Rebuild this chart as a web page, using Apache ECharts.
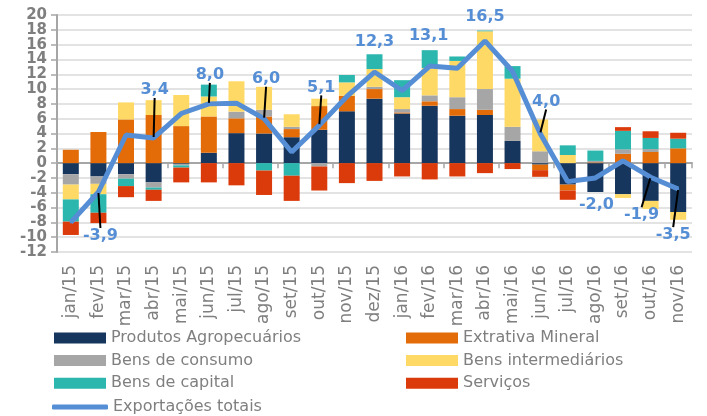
<!DOCTYPE html>
<html>
<head>
<meta charset="utf-8">
<script src="https://cdn.jsdelivr.net/npm/echarts@6/dist/echarts.min.js"></script>
<style>
  html, body { margin: 0; padding: 0; background: #fff; }
  #chart { width: 707px; height: 416px; }
</style>
</head>
<body>
<div id="chart"></div>
<script>
const categories = ['jan/15', 'fev/15', 'mar/15', 'abr/15', 'mai/15', 'jun/15', 'jul/15', 'ago/15', 'set/15', 'out/15', 'nov/15', 'dez/15',
  'jan/16', 'fev/16', 'mar/16', 'abr/16', 'mai/16', 'jun/16', 'jul/16', 'ago/16', 'set/16', 'out/16', 'nov/16']

const agro = [-1.5, -1.8, -1.5, -2.6, -0.1, 1.4, 4.05, 4.0, 3.5, 4.5, 7.0, 8.7, 6.7, 7.75, 6.4, 6.5, 3.0, -0.2, -2.9, -3.9, -4.2, -5.1, -6.6]
const mineral = [1.8, 4.2, 5.9, 6.5, 5.0, 4.9, 2.0, 2.3, 1.1, 3.2, 2.1, 1.3, 0.15, 0.6, 0.9, 0.7, 0, -0.75, -0.8, 0.1, 1.26, 1.5, 2.0]
const consumo = [-1.4, -1.0, -0.6, -0.7, -0.2, 0, 0.9, 0.9, 0.3, -0.45, 0, 0.3, 0.45, 0.8, 1.6, 2.8, 1.9, 1.6, 0, 0.2, 0.6, 0.4, 0]
const intermed = [-2.0, -1.4, 2.3, 2.0, 4.2, 2.7, 4.1, 3.1, 1.7, 1.0, 1.8, 2.4, 1.6, 3.7, 4.9, 7.8, 6.5, 4.3, 1.1, 0, -0.5, -1.1, -1.05]
const capital = [-3.0, -2.5, -1.0, -0.3, -0.3, 1.6, 0, -1.0, -1.7, 0, 1.0, 2.0, 2.3, 2.4, 0.6, 0.1, 1.7, 0, 1.3, 1.4, 2.5, 1.5, 1.3]
const servicos = [-1.8, -1.4, -1.5, -1.5, -2.0, -2.6, -3.0, -3.3, -3.4, -3.25, -2.7, -2.4, -1.8, -2.2, -1.8, -1.35, -0.8, -0.9, -1.25, 0, 0.5, 0.9, 0.8]
const totais = [-8.0, -3.9, 3.8, 3.4, 6.7, 8.0, 8.1, 6.0, 1.5, 5.1, 9.0, 12.3, 9.8, 13.1, 12.8, 16.5, 12.4, 4.0, -2.5, -2.0, 0.3, -1.9, -3.5]

const yTicks = { min: -12, max: 20, interval: 2 }

// label offsets from the point: [dx, dy, leader line]
const labelOffsets = {
  1: [2, 44, true], 3: [1, -48, true], 5: [1, -29, true], 7: [2, -40, true],
  9: [2, -38, true], 11: [0, -30, false], 13: [-1, -30, false], 15: [0, -24, false],
  17: [6, -32, true], 19: [1, 27, false], 21: [-9, 38, true], 22: [-5, 46, true]
}

const font = 'DejaVu Sans'
const fmt = (v) => v.toFixed(1).replace('.', ',')

const bar = (name, data, color) => ({
  name,
  type: 'bar',
  stack: 'total',
  xAxisIndex: 0,
  barWidth: 16,
  data,
  itemStyle: { color },
})

const lineData = totais.map((v, i) => {
  const off = labelOffsets[i]
  return {
    value: v,
    label: { show: !!off },
    labelLine: { show: !!(off && off[2]) },
  }
})

const legendText = { fontFamily: font, fontSize: 16, lineHeight: 18, color: '#7f7f7f' }

const chart = echarts.init(document.getElementById('chart'))

chart.setOption({
  animation: false,
  grid: { left: 57, right: 15, top: 15, bottom: 164 },
  legend: [
    {
      orient: 'vertical',
      left: 49,
      top: 324,
      itemWidth: 52,
      itemHeight: 11,
      itemGap: 4.6,
      icon: 'rect',
      textStyle: legendText,
      data: ['Produtos Agropecuários', 'Bens de consumo', 'Bens de capital'],
    },
    {
      orient: 'vertical',
      left: 401,
      top: 324,
      itemWidth: 52,
      itemHeight: 11,
      itemGap: 4.6,
      icon: 'rect',
      textStyle: legendText,
      data: ['Extrativa Mineral', 'Bens intermediários', 'Serviços'],
    },
    {
      left: 47,
      top: 393,
      itemWidth: 56,
      itemHeight: 5,
      icon: 'roundRect',
      textStyle: legendText,
      data: ['Exportações totais'],
    },
  ],
  xAxis: [
    {
      type: 'category',
      position: 'top',
      data: categories,
      axisLine: { onZero: true, lineStyle: { color: '#a6a6a6', width: 2 } },
      axisTick: { show: true, inside: true, length: 5, lineStyle: { color: '#a6a6a6', width: 1.5 } },
      axisLabel: { show: false },
      splitLine: { show: false },
    },
    {
      type: 'category',
      position: 'bottom',
      data: categories,
      axisLine: { show: false, onZero: false },
      axisTick: { show: false },
      splitLine: { show: false },
      axisLabel: {
        interval: 0,
        rotate: 90,
        margin: 13,
        fontFamily: font,
        fontSize: 17,
        color: '#7f7f7f',
      },
    },
  ],
  yAxis: {
    type: 'value',
    min: yTicks.min,
    max: yTicks.max,
    interval: yTicks.interval,
    axisLine: { show: true, lineStyle: { color: '#a6a6a6', width: 2 } },
    axisTick: { show: true, length: 6, lineStyle: { color: '#a6a6a6', width: 1.5 } },
    axisLabel: {
      margin: 10,
      showMinLabel: true,
      showMaxLabel: true,
      hideOverlap: false,
      fontFamily: font,
      fontWeight: 'bold',
      fontSize: 15,
      lineHeight: 12,
      color: '#7f7f7f',
    },
    splitLine: { show: true, lineStyle: { color: '#e3e3e3', width: 2 } },
  },
  series: [
    bar('Produtos Agropecuários', agro, '#17365d'),
    bar('Extrativa Mineral', mineral, '#e36c09'),
    bar('Bens de consumo', consumo, '#a6a6a6'),
    bar('Bens intermediários', intermed, '#ffd966'),
    bar('Bens de capital', capital, '#2bb6ae'),
    bar('Serviços', servicos, '#db3b0b'),
    {
      name: 'Exportações totais',
      type: 'line',
      xAxisIndex: 0,
      data: lineData,
      z: 5,
      symbol: 'circle',
      symbolSize: 2,
      showAllSymbol: true,
      itemStyle: { color: '#558ed5' },
      lineStyle: { color: '#558ed5', width: 5 },
      label: {
        show: false,
        position: 'inside',
        fontFamily: font,
        fontWeight: 'bold',
        fontSize: 16,
        color: '#558ed5',
        formatter: (p) => fmt(p.value),
      },
      labelLine: { show: false, lineStyle: { color: '#000', width: 2 } },
      labelLayout: (p) => {
        const off = labelOffsets[p.dataIndex]
        if (!off || !p.rect) return {}
        return {
          x: p.rect.x + p.rect.width / 2 + off[0],
          y: p.rect.y + p.rect.height / 2 + off[1],
          align: 'center',
          verticalAlign: 'middle',
        }
      },
    },
  ],
})
</script>
</body>
</html>
